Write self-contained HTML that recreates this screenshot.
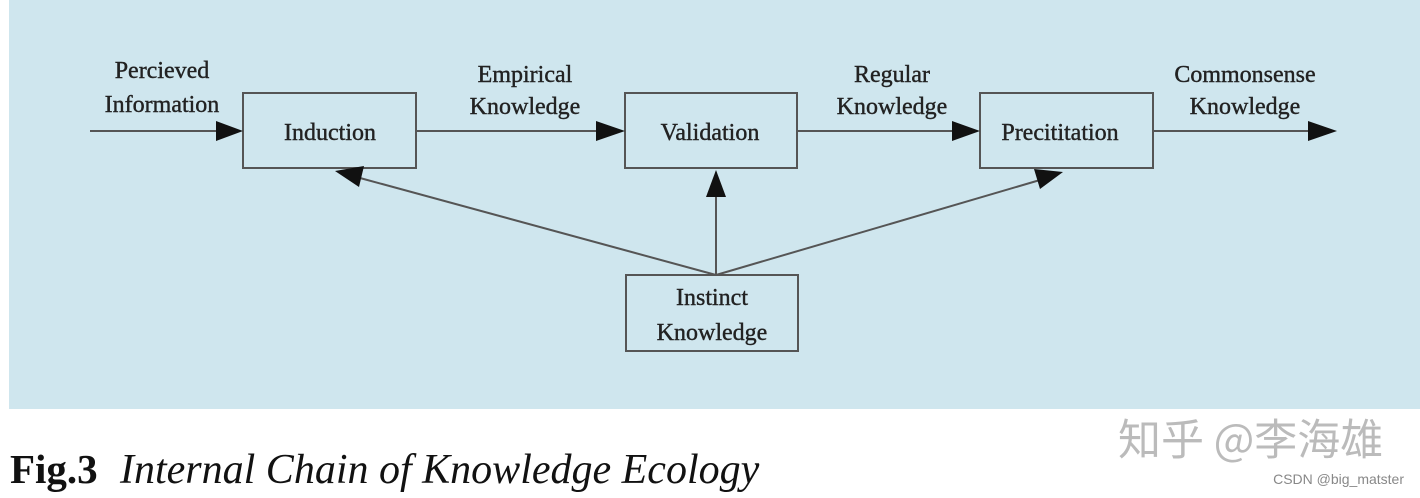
<!DOCTYPE html><html><head><style>body{margin:0;width:1420px;height:498px;background:#fff;overflow:hidden;position:relative}
svg{position:absolute;left:0;top:0}
</style></head><body>
<svg width="1420" height="498" font-family="Liberation Serif, serif">
<rect x="9" y="0" width="1411" height="409" fill="#cfe6ee"/>
<g stroke="#555" stroke-width="2" fill="none">
<rect x="243" y="93" width="173" height="75"/>
<rect x="625" y="93" width="172" height="75"/>
<rect x="980" y="93" width="173" height="75"/>
<rect x="626" y="275" width="172" height="76"/>
</g>
<g stroke="#555" stroke-width="2">
<line x1="90" y1="131" x2="218" y2="131"/><polygon points="216,121 243,131 216,141" fill="#111" stroke="none"/>
<line x1="416" y1="131" x2="598" y2="131"/><polygon points="596,121 625,131 596,141" fill="#111" stroke="none"/>
<line x1="797" y1="131" x2="954" y2="131"/><polygon points="952,121 980,131 952,141" fill="#111" stroke="none"/>
<line x1="1153" y1="131" x2="1310" y2="131"/><polygon points="1308,121 1337,131 1308,141" fill="#111" stroke="none"/>
<line x1="716" y1="275" x2="716" y2="195"/><polygon points="706,197 716,170 726,197" fill="#111" stroke="none"/>
<line x1="716" y1="275" x2="360" y2="178"/><polygon points="364,166 335,171 359,187" fill="#111" stroke="none"/>
<line x1="716" y1="275" x2="1040" y2="180"/><polygon points="1034,169 1063,172 1040,189" fill="#111" stroke="none"/>
</g>
<g fill="#222" stroke="#222" stroke-width="0.4" font-size="24" text-anchor="middle">
<text x="162" y="78">Percieved</text><text x="162" y="112">Information</text>
<text x="330" y="140">Induction</text>
<text x="525" y="82">Empirical</text><text x="525" y="114">Knowledge</text>
<text x="710" y="140">Validation</text>
<text x="892" y="82">Regular</text><text x="892" y="114">Knowledge</text>
<text x="1060" y="140">Precititation</text>
<text x="1245" y="82">Commonsense</text><text x="1245" y="114">Knowledge</text>
<text x="712" y="305">Instinct</text><text x="712" y="340">Knowledge</text>
</g>
<text x="10" y="483" font-size="41" font-weight="bold" fill="#111">Fig.3</text>
<text x="120" y="483" font-size="42" font-style="italic" fill="#111">Internal Chain of Knowledge Ecology</text>
<text x="1118" y="455" font-size="43" fill="#bbb" font-family="Noto Sans CJK SC, sans-serif">知乎 @李海雄</text>
<text x="1404" y="484" font-size="14" fill="#888" text-anchor="end" font-family="Liberation Sans, sans-serif">CSDN @big_matster</text>
</svg></body></html>
